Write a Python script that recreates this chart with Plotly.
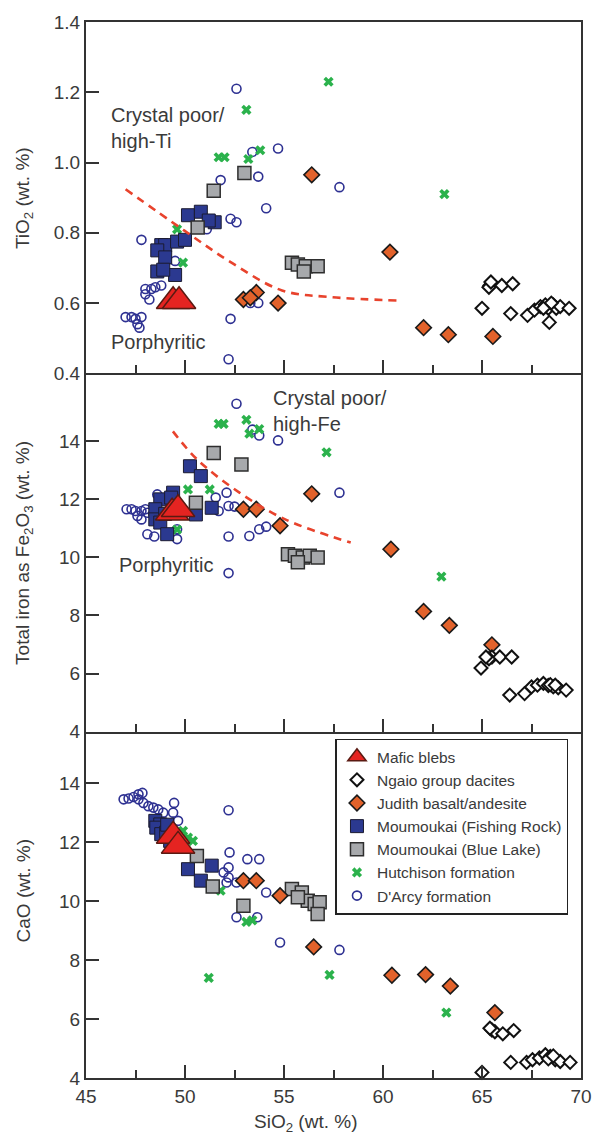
import plotly.graph_objects as go
from plotly.subplots import make_subplots

# ---- TiO2 panel (SiO2, TiO2 in wt. %) ----
darcy_x_ti = [52.6, 53.4, 54.7, 53.7, 51.8, 54.1, 57.8, 52.3, 52.6, 51.1, 47.8, 49.5, 48.0, 48.3,
              48.5, 48.8, 48.0, 48.2, 47.0, 47.3, 47.5, 47.8, 47.6, 47.7, 52.3, 52.2, 53.3, 53.7]
darcy_ti = [1.21, 1.03, 1.04, 0.96, 0.95, 0.87, 0.93, 0.84, 0.83, 0.81, 0.78, 0.72, 0.64, 0.64,
            0.645, 0.65, 0.625, 0.61, 0.56, 0.56, 0.555, 0.56, 0.54, 0.53, 0.555, 0.44, 0.60, 0.60]
hutch_x_ti = [57.25, 53.1, 51.7, 52.0, 53.2, 53.8, 49.6, 49.9, 63.1]
hutch_ti = [1.23, 1.15, 1.015, 1.015, 1.01, 1.035, 0.81, 0.715, 0.91]
fr_x_ti = [50.15, 50.8, 51.5, 51.2, 48.8, 49.0, 49.6, 50.0, 48.6, 49.0, 48.6, 49.5, 48.9]
fr_ti = [0.85, 0.86, 0.83, 0.835, 0.765, 0.765, 0.775, 0.78, 0.75, 0.73, 0.69, 0.68, 0.695]
bl_x_ti = [53.0, 51.45, 50.64, 55.4, 55.7, 56.1, 56.7, 56.0]
bl_ti = [0.97, 0.92, 0.815, 0.715, 0.71, 0.705, 0.705, 0.69]
jb_x_ti = [56.4, 52.95, 53.6, 53.3, 54.7, 60.35, 62.05, 63.3, 65.55]
jb_ti = [0.965, 0.61, 0.63, 0.615, 0.60, 0.745, 0.53, 0.51, 0.505]
ng_x_ti = [65.4, 65.5, 65.35, 65.45, 66.0, 66.55, 65.0, 66.45, 67.3, 67.65, 67.95, 68.2, 68.35,
           68.6, 68.75, 68.95, 69.4, 68.4, 68.5, 68.1]
ng_ti = [0.65, 0.655, 0.645, 0.66, 0.65, 0.655, 0.585, 0.57, 0.565, 0.58, 0.59, 0.595, 0.585,
         0.595, 0.585, 0.59, 0.585, 0.545, 0.6, 0.585]
mb_x_ti = [49.4, 49.7]
mb_ti = [0.605, 0.605]

# ---- Fe2O3 panel ----
darcy_x_fe = [52.6, 53.4, 53.75, 54.7, 57.8, 52.1, 51.55, 52.2, 52.5, 51.7, 53.75, 54.1, 53.25, 52.2,
              52.2, 47.05, 47.3, 47.5, 47.8, 48.0, 47.6, 47.8, 48.1, 48.6, 48.1, 48.45, 49.6, 49.6]
darcy_fe = [15.29, 14.4, 14.2, 14.03, 12.23, 12.23, 12.06, 11.77, 11.75, 11.6, 10.97, 11.06, 10.74, 10.72,
            9.46, 11.66, 11.66, 11.6, 11.6, 11.66, 11.43, 11.31, 11.54, 12.17, 10.8, 10.72, 10.97, 10.63]
hutch_x_fe = [51.7, 51.95, 53.1, 53.75, 53.25, 57.15, 50.15, 51.25, 49.6, 62.95]
hutch_fe = [14.6, 14.6, 14.74, 14.42, 14.26, 13.62, 12.34, 12.34, 10.96, 9.34]
fr_x_fe = [50.25, 50.8, 49.4, 48.75, 49.3, 51.35, 50.55, 48.5, 48.5, 48.75, 49.1, 49.0]
fr_fe = [13.14, 12.8, 12.23, 12.0, 12.06, 11.71, 11.48, 11.66, 11.31, 11.2, 10.8, 11.5]
bl_x_fe = [51.45, 52.85, 50.55, 55.2, 55.55, 55.95, 56.3, 56.7, 55.7]
bl_fe = [13.6, 13.2, 11.88, 10.11, 10.06, 10.0, 10.06, 10.0, 9.83]
jb_x_fe = [52.95, 53.6, 54.8, 56.4, 60.4, 62.05, 63.35, 65.5]
jb_fe = [11.66, 11.66, 11.09, 12.19, 10.28, 8.14, 7.66, 6.99]
ng_x_fe = [65.5, 65.35, 65.2, 65.9, 66.5, 64.95, 66.4, 67.15, 67.5, 67.8, 68.1, 68.35, 68.6, 68.85,
           69.25, 68.45, 68.7]
ng_fe = [6.57, 6.51, 6.57, 6.57, 6.57, 6.19, 5.26, 5.31, 5.54, 5.6, 5.66, 5.59, 5.54, 5.51,
         5.43, 5.62, 5.6]
mb_x_fe = [49.35, 49.65]
mb_fe = [11.54, 11.66]

# ---- CaO panel ----
darcy_x_ca = [46.9, 47.15, 47.4, 47.65, 47.85, 47.65, 47.9, 48.15, 48.4, 48.65, 48.9, 49.45, 49.4, 49.65,
              52.2, 52.25, 53.15, 53.75, 52.2, 52.2, 51.95, 52.1, 52.6, 54.1, 52.6, 53.65, 54.8, 57.8]
darcy_ca = [13.46, 13.49, 13.54, 13.63, 13.68, 13.46, 13.34, 13.23, 13.18, 13.12, 13.01, 13.34, 13.01, 12.73,
            13.09, 11.66, 11.43, 11.43, 11.15, 10.81, 10.98, 10.64, 10.64, 10.3, 9.46, 9.46, 8.6, 8.35]
hutch_x_ca = [49.9, 50.15, 50.4, 51.8, 53.1, 53.4, 51.2, 57.3, 63.2]
hutch_ca = [12.39, 12.16, 12.05, 10.36, 9.3, 9.35, 7.4, 7.5, 6.22]
fr_x_ca = [48.5, 48.75, 48.9, 48.55, 48.8, 49.05, 49.25, 50.15, 50.8, 51.35, 49.1]
fr_ca = [12.73, 12.61, 12.45, 12.5, 12.28, 12.33, 12.05, 11.09, 10.7, 11.21, 12.6]
bl_x_ca = [50.6, 51.4, 52.95, 55.4, 55.9, 56.2, 56.55, 56.8, 56.7, 55.7]
bl_ca = [11.54, 10.5, 9.85, 10.42, 10.3, 10.02, 9.91, 9.97, 9.57, 10.14]
jb_x_ca = [52.95, 53.6, 54.8, 56.5, 60.45, 62.15, 63.4, 65.65]
jb_ca = [10.7, 10.7, 10.19, 8.45, 7.49, 7.51, 7.12, 6.22]
ng_x_ca = [65.5, 65.65, 65.4, 66.05, 66.6, 65.0, 66.45, 67.25, 67.55, 67.9, 68.2, 68.45, 68.7, 68.95,
           69.45, 68.35, 68.6]
ng_ca = [5.63, 5.57, 5.69, 5.5, 5.61, 4.19, 4.53, 4.53, 4.62, 4.68, 4.79, 4.73, 4.62, 4.56,
         4.53, 4.65, 4.75]
mb_x_ca = [49.4, 49.65]
mb_ca = [12.22, 11.88]

# ---- dividing curves (porphyritic vs crystal-poor) ----
ti_line_x = [47.0, 49.97, 52.43, 54.9, 57.37, 60.89]
ti_line_y = [0.924, 0.806, 0.712, 0.636, 0.617, 0.607]
fe_line_x = [49.39, 50.62, 52.75, 55.06, 58.37]
fe_line_y = [14.34, 13.37, 12.23, 11.31, 10.51]

# ---- axis ticks ----
x_major = [45, 50, 55, 60, 65, 70]
x_minor = [47.5, 52.5, 57.5, 62.5, 67.5]
ti_ticks = [0.4, 0.6, 0.8, 1.0, 1.2, 1.4]
oxide_ticks = [4, 6, 8, 10, 12, 14]

TEXT = "#3a3a3a"
FRAME = "#333333"
FONT = "Liberation Sans, Arial, Helvetica, sans-serif"

# series in drawing order (bottom layer first); rank sets the legend order
series = [
    ("D'Arcy formation", 7,
     dict(symbol="circle-open", size=9, color="#2e3192", line=dict(width=1.6, color="#2e3192")),
     [(darcy_x_ti, darcy_ti), (darcy_x_fe, darcy_fe), (darcy_x_ca, darcy_ca)]),
    ("Hutchison formation", 6,
     dict(symbol="x", size=9, color="#2bb24c", line=dict(width=0)),
     [(hutch_x_ti, hutch_ti), (hutch_x_fe, hutch_fe), (hutch_x_ca, hutch_ca)]),
    ("Moumoukai (Fishing Rock)", 4,
     dict(symbol="square", size=13, color="#2b3990", line=dict(width=1, color="#1b1b30")),
     [(fr_x_ti, fr_ti), (fr_x_fe, fr_fe), (fr_x_ca, fr_ca)]),
    ("Moumoukai (Blue Lake)", 5,
     dict(symbol="square", size=13, color="#a7a9ac", line=dict(width=1.5, color="#2e2e2e")),
     [(bl_x_ti, bl_ti), (bl_x_fe, bl_fe), (bl_x_ca, bl_ca)]),
    ("Judith basalt/andesite", 3,
     dict(symbol="diamond", size=12, color="#e2622b", line=dict(width=1.6, color="#1a1a1a")),
     [(jb_x_ti, jb_ti), (jb_x_fe, jb_fe), (jb_x_ca, jb_ca)]),
    ("Ngaio group dacites", 2,
     dict(symbol="diamond", size=10, color="white", line=dict(width=2, color="#111111")),
     [(ng_x_ti, ng_ti), (ng_x_fe, ng_fe), (ng_x_ca, ng_ca)]),
    ("Mafic blebs", 1,
     dict(symbol="triangle-up", size=29, color="#e52421", line=dict(width=1.5, color="#5a1a12")),
     [(mb_x_ti, mb_ti), (mb_x_fe, mb_fe), (mb_x_ca, mb_ca)]),
]

fig = make_subplots(rows=3, cols=1, vertical_spacing=0)

for name, rank, marker, panels in series:
    for row, (xs, ys) in enumerate(panels, start=1):
        fig.add_trace(
            go.Scatter(x=xs, y=ys, mode="markers", name=name, marker=marker,
                       legendrank=rank, showlegend=(row == 1), cliponaxis=False),
            row=row, col=1)

dash_line = dict(color="#e8432d", width=2.6, dash="8px,6px", shape="spline")
fig.add_trace(go.Scatter(x=ti_line_x, y=ti_line_y, mode="lines", line=dash_line,
                         showlegend=False), row=1, col=1)
fig.add_trace(go.Scatter(x=fe_line_x, y=fe_line_y, mode="lines", line=dash_line,
                         showlegend=False), row=2, col=1)

axis_common = dict(showline=True, linewidth=2, linecolor=FRAME,
                   showgrid=False, zeroline=False, ticks="inside", ticklen=13,
                   tickwidth=2, tickcolor=FRAME, tickfont=dict(size=19, color=TEXT))

# the top panel draws its own top border; lower panels share the border above
for row in (1, 2, 3):
    fig.update_xaxes(range=[45, 70], tickvals=x_major, showticklabels=(row == 3),
                     mirror=(row == 1),
                     minor=dict(tickvals=x_minor, ticks="inside", ticklen=8,
                                tickwidth=2, tickcolor=FRAME),
                     row=row, col=1, **axis_common)

fig.update_yaxes(range=[0.4, 1.4], tickvals=ti_ticks, tickformat=".1f", mirror=True,
                 domain=[0.6673, 1.0], row=1, col=1, **axis_common)
fig.update_yaxes(range=[4, 16.34], tickvals=oxide_ticks, mirror=True,
                 domain=[0.3280, 0.6673], row=2, col=1, **axis_common)
fig.update_yaxes(range=[4, 15.76], tickvals=oxide_ticks, mirror=True,
                 domain=[0.0, 0.3280], row=3, col=1, **axis_common)

title_font = dict(family=FONT, size=19, color=TEXT)
label_font = dict(family=FONT, size=20, color=TEXT)

annotations = [
    dict(text="TiO<sub>2</sub> (wt. %)", xref="paper", yref="paper", x=-0.1265, y=0.8336,
         textangle=-90, showarrow=False, xanchor="center", yanchor="middle", font=title_font),
    dict(text="Total iron as Fe<sub>2</sub>O<sub>3</sub> (wt. %)", xref="paper", yref="paper",
         x=-0.1265, y=0.4976, textangle=-90, showarrow=False, xanchor="center",
         yanchor="middle", font=title_font),
    dict(text="CaO (wt. %)", xref="paper", yref="paper", x=-0.1265, y=0.177,
         textangle=-90, showarrow=False, xanchor="center", yanchor="middle", font=title_font),
    dict(text="SiO<sub>2</sub> (wt. %)", xref="paper", yref="paper", x=0.443, y=-0.0424,
         showarrow=False, xanchor="center", yanchor="middle", font=title_font),
    dict(text="Crystal poor/<br>high-Ti", xref="x", yref="y", x=46.15, y=1.097,
         showarrow=False, xanchor="left", yanchor="middle", align="left", font=label_font),
    dict(text="Porphyritic", xref="x", yref="y", x=46.15, y=0.49,
         showarrow=False, xanchor="left", yanchor="middle", font=label_font),
    dict(text="Crystal poor/<br>high-Fe", xref="x2", yref="y2", x=54.32, y=15.06,
         showarrow=False, xanchor="left", yanchor="middle", align="left", font=label_font),
    dict(text="Porphyritic", xref="x2", yref="y2", x=46.59, y=9.74,
         showarrow=False, xanchor="left", yanchor="middle", font=label_font),
]

fig.update_layout(
    width=604, height=1136,
    margin=dict(l=86, r=12, t=17, b=58),
    paper_bgcolor="white", plot_bgcolor="white",
    font=dict(family=FONT, size=19, color=TEXT),
    annotations=annotations,
    showlegend=True,
    legend=dict(x=0.504, y=0.3214, xanchor="left", yanchor="top",
                traceorder="normal", bgcolor="white",
                bordercolor="#222222", borderwidth=1.5,
                font=dict(family=FONT, size=15.5, color=TEXT)),
)

fig.write_html("out.html")
